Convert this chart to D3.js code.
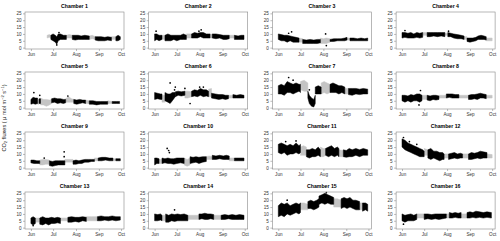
<!DOCTYPE html>
<html>
<head>
<meta charset="utf-8">
<script src="https://cdn.jsdelivr.net/npm/d3@7"></script>
<style>
  body { margin: 0; background: #fff; }
  text { font-family: "Liberation Sans", Arial, sans-serif; }
</style>
</head>
<body>
<svg width="500" height="241"></svg>
<script>
// days counted from 1 June; runs are [flag, [[day, low, high], ...]], flag 1 = gap filled (gray)
var monthLabels = ["Jun", "Jul", "Aug", "Sep", "Oct"];
var monthDays = [0, 30, 61, 92, 122];
var yTicks = [0, 5, 10, 15, 20, 25];
var titles = ["Chamber 1", "Chamber 2", "Chamber 3", "Chamber 4", "Chamber 5", "Chamber 6", "Chamber 7", "Chamber 8",
              "Chamber 9", "Chamber 10", "Chamber 11", "Chamber 12", "Chamber 13", "Chamber 14", "Chamber 15", "Chamber 16"];

var chamber1 = [
  [1, [[22,7,9],[25,7.5,9.5],[27,7,9]]],
  [0, [[27,6,9],[30,5,10],[33,4,9],[35,2.5,8],[37,5,10],[40,6,10],[44,6,9],[48,6,9]]],
  [1, [[48,7,9],[52,7,9.5],[56,7,9]]],
  [0, [[56,6,9],[60,5.5,9],[64,6,9],[68,6,8.5],[73,6,9],[79,6,8.5]]],
  [1, [[79,6,8.5],[83,6.5,9],[87,6,8]]],
  [0, [[87,5.5,8],[91,5,8],[95,5,8],[100,5,7.5],[104,5.5,8],[109,5,7.5]]],
  [1, [[109,6,8],[115,6,8]]],
  [0, [[115,5,8],[118,5,9],[121,6,8]]]
];
var chamber2 = [
  [0, [[0,5,10],[3,6,10],[6,5,9],[10,6,9]]],
  [1, [[10,6,9],[14,6,9]]],
  [0, [[14,5,9],[18,5,10],[22,5,9],[26,6,9],[30,5,9],[35,6,9],[39,6,10],[43,6,9]]],
  [1, [[43,7,10],[47,7,10],[50,7,10]]],
  [0, [[50,7,10],[54,7,11],[58,7,10.5],[62,8,11],[66,7,11],[70,7,10],[75,7,10]]],
  [1, [[75,7,10],[78,7,9.5]]],
  [0, [[78,7,10],[83,6.5,10],[88,7,9.5],[93,6,9],[97,6,9],[101,6.5,9]]],
  [1, [[101,7,9],[108,7,9]]],
  [0, [[108,6,9],[113,6,8.5],[117,6,9],[121,6,9]]]
];
var chamber3 = [
  [0, [[0,6,10],[4,5,9.5],[8,5,9],[12,4,9],[16,5,8.5],[20,4,8],[24,4,7.5],[28,4,7]]],
  [1, [[28,4,7],[33,4,6.5]]],
  [0, [[33,3,6],[38,3,5.5],[43,3,6],[48,3,5.5],[53,3,6],[57,3.5,6]]],
  [1, [[57,3,7],[61,3,6.5],[65,3,7],[70,4,6.5]]],
  [0, [[70,4.5,6],[75,4.5,6.5],[80,5,6.5],[85,5,6.5],[90,5,7],[93,5.5,7.5]]],
  [1, [[93,5.5,7],[97,5.5,7]]],
  [0, [[97,5,7],[102,5,7],[107,5,6.5],[112,5,7],[117,5,6.5],[121,5,7]]]
];
var chamber4 = [
  [0, [[0,7,11],[4,7.5,11],[8,7,10.5],[12,7,11],[16,7,10],[20,7.5,11],[24,7,10.5],[28,7.5,11]]],
  [1, [[28,9,11],[34,9,11]]],
  [0, [[34,8,11],[38,8,11],[43,8.5,11],[48,8,11],[53,8.5,11],[58,8,11]]],
  [1, [[58,9,10.5],[62,9,10.5]]],
  [0, [[62,8,11],[66,8,10.5],[70,7,10],[75,6.5,9.5],[80,6.5,9],[84,6,8.5]]],
  [1, [[84,6,8],[88,6,8]]],
  [0, [[88,4.5,7],[92,4,7],[96,4.5,7],[100,5,7.5],[103,6,8.5],[107,6,9],[111,6,8.5],[114,5.5,8]]],
  [1, [[114,5,7],[118,5,7],[122,5,7]]]
];
var chamber5 = [
  [0, [[0,2.5,6],[3,3,7.5],[6,2.5,7],[9,3,7]]],
  [1, [[9,2.5,6],[11,2.5,6]]],
  [0, [[11,3,6.5],[13,3,6.5]]],
  [1, [[13,2,7],[17,2,6],[21,1,6],[25,2,5.5],[28,3,6]]],
  [0, [[28,3.5,6.5],[32,4,7],[36,3,6.5],[40,3.5,6.5],[44,3,6],[47,3.5,6]]],
  [1, [[47,4,6.5],[51,4,8],[55,4,6.5],[58,4,6]]],
  [0, [[58,3,6],[62,2.5,5.5],[66,3,6],[70,3.5,5.5],[74,3,5.5]]],
  [1, [[74,3,5.5],[79,3,5]]],
  [0, [[79,2.5,5],[84,2.5,5],[89,2,4.5],[94,2.5,4.5],[99,2.5,4.5],[104,2.5,4.5]]],
  [1, [[104,3,5],[110,3,4.5]]],
  [0, [[110,3,4.5],[116,3,4.5],[120,3,4.5]]]
];
var chamber6 = [
  [0, [[0,6,11],[4,6.5,10.5],[8,6,10],[10,6,10]]],
  [1, [[10,4,9],[14,4,9]]],
  [0, [[14,5,11],[18,4,10],[21,3,10],[24,5,11],[28,8,11]]],
  [0, [[28,8,11.5],[32,9,12],[36,8.5,11.5],[41,9,12]]],
  [1, [[41,7,12],[45,7,12],[50,8,11.5]]],
  [0, [[50,8,12],[54,8.5,13],[58,8,12.5],[62,9,14],[66,8,13],[70,8.5,13],[73,8,12]]],
  [1, [[73,8,13.5],[77,8,14]]],
  [0, [[77,7,10.5],[82,6.5,10],[87,6,9.5],[92,6.5,9.5],[96,6,9],[100,6.5,9]]],
  [1, [[100,7,9],[106,7,9]]],
  [0, [[106,7,9.5],[111,7,9],[116,7,9.5],[121,7,9]]]
];
var chamber7 = [
  [0, [[0,10,16],[4,10,17],[8,9,16],[12,11,19],[16,11,18],[20,10,17],[24,11,18],[28,12,17],[30,11,17]]],
  [1, [[30,13,19],[35,12,20],[40,12,18]]],
  [0, [[40,7,12],[42,3,9],[45,1,7],[48,0.5,6],[50,3,9]]],
  [0, [[50,10,15],[54,10,16],[58,10,15]]],
  [1, [[58,10,18],[62,11,19],[66,10,18],[70,11,17]]],
  [0, [[70,11,17],[74,11,18],[78,11,17],[82,10,16],[86,11,16],[90,10,15]]],
  [1, [[90,10,14],[95,10,14]]],
  [0, [[95,9.5,14],[100,9,14],[105,10,14],[110,9.5,13.5],[115,10,14],[121,10,13.5]]]
];
var chamber8 = [
  [0, [[0,5,9],[4,4,9],[8,5,8.5],[12,4,9.5],[16,5,9],[20,5,10],[24,4,10],[27,5,9]]],
  [1, [[27,6,9],[34,6,9]]],
  [0, [[34,5.5,9],[38,5,8.5],[42,6,9],[46,5.5,9],[50,6,8.5]]],
  [1, [[50,7,9],[55,7,9],[60,7,9]]],
  [0, [[60,7,10],[64,7.5,10],[68,7,10],[72,7,9.5],[77,7,9.5]]],
  [1, [[77,7,9],[83,7,9],[90,7,9]]],
  [0, [[90,6,9],[94,6,9.5],[98,6.5,9.5],[102,6,10],[106,7,10.5],[110,7,10],[114,6.5,9.5]]],
  [1, [[114,7,9],[122,7,9]]]
];
var chamber9 = [
  [0, [[0,3.5,5.5],[4,3,5.5],[8,3,5],[12,3,5]]],
  [1, [[12,2,5.5],[16,2,6],[20,2.5,6],[25,2.5,5.5]]],
  [0, [[25,1.5,5],[29,1,4.5],[33,1.5,5],[37,2,5],[41,2,5],[46,2,5]]],
  [1, [[46,4,6],[51,4,6],[57,4,6]]],
  [0, [[57,2.5,5],[61,2.5,5.5],[65,3,5],[69,3,5.5],[73,4,6],[78,4,6],[82,4.5,6],[86,4.5,6]]],
  [1, [[86,5,7],[91,5,7]]],
  [0, [[91,5,7],[96,5,7.5],[101,5.5,7.5],[106,5,7],[111,5,7]]],
  [1, [[111,5,6.5],[115,5,6.5]]],
  [0, [[115,5,6.5],[121,5,6.5]]]
];
var chamber10 = [
  [0, [[0,2,7],[3,3,7],[6,3,6.5]]],
  [1, [[6,3,6],[10,3,6]]],
  [0, [[10,3,7],[14,3.5,6.5],[18,3,7],[22,3,6.5],[26,2.5,6.5],[30,3,7],[35,3.5,7],[40,3,7]]],
  [1, [[40,2,7],[44,1,6],[48,2,7]]],
  [0, [[48,3,8],[52,3.5,7.5],[56,4,8],[60,3,7.5],[65,4,8],[70,4.5,8]]],
  [1, [[70,6,8],[74,6,8.5],[78,6,8]]],
  [0, [[78,6,9],[83,6,8.5],[88,6.5,9],[93,6,8.5],[97,6,9],[101,6,8.5]]],
  [1, [[101,5,7],[108,5,7]]],
  [0, [[108,5,7],[114,5,7],[121,5,7]]]
];
var chamber11 = [
  [0, [[0,11,17],[4,10,18],[8,11,17],[12,9,16],[16,10,17],[20,10,16],[24,11,18],[28,10,16],[30,11,17]]],
  [1, [[30,9,15],[34,9,16],[38,9,15]]],
  [0, [[38,8,13],[42,7,13],[46,8,14],[50,8,13],[54,9,15],[57,8,13]]],
  [1, [[57,8,15],[61,8,14],[64,9,14]]],
  [0, [[64,9,14],[68,8,15],[72,9,16],[76,8,14],[80,9,15],[82,8,14]]],
  [1, [[82,8,13],[88,8,12.5]]],
  [0, [[88,8,13],[92,7.5,12.5],[96,8,14],[100,8,13],[105,9,14],[110,8,13],[115,9,14],[121,9,13]]]
];
var chamber12 = [
  [0, [[0,15,21],[4,13,20],[8,12,18],[12,11,17],[16,10,16],[20,9,15],[24,8,14],[28,8,13],[30,8,12]]],
  [1, [[30,9,14],[35,9,13]]],
  [0, [[35,7,13],[39,6,14],[43,7,12],[47,6,12],[51,5,11],[55,6,11],[57,6,10]]],
  [1, [[57,7,10],[63,7,10]]],
  [0, [[63,6,10],[67,6.5,10.5],[71,7,11],[75,6.5,10],[79,7,10.5],[82,7,10]]],
  [1, [[82,7,10],[90,7,10]]],
  [0, [[90,6,10],[94,6,11],[98,6.5,10.5],[102,7,11],[106,6.5,12],[110,7,11.5],[115,7,11]]],
  [1, [[115,7,10],[122,7,9.5]]]
];
var chamber13 = [
  [0, [[0,3,7],[3,2,8],[6,3,7]]],
  [1, [[6,4,7],[12,4,7]]],
  [0, [[12,2.5,7],[16,2,8],[20,3,7],[24,2,7],[28,3,7.5],[32,3,7],[36,3.5,7.5],[40,3,7]]],
  [1, [[40,5,7],[45,5,7],[50,5,7]]],
  [0, [[50,4,7.5],[55,4,8],[60,4.5,7.5],[65,4,7.5],[70,5,8],[75,4.5,7.5]]],
  [1, [[75,5,8],[82,5,8],[90,5,8]]],
  [0, [[90,5,8],[95,5,8.5],[100,5.5,8],[105,5,8],[110,5.5,8.5],[115,5,8],[121,5.5,8]]]
];
var chamber14 = [
  [0, [[0,5,10],[4,5,9.5],[8,5.5,10],[10,5,9]]],
  [1, [[10,5,9],[15,5,9]]],
  [0, [[15,4,10],[19,4,9],[23,5,10],[27,4.5,9.5],[31,5,10],[35,5,9.5],[40,5,10],[45,5,9]]],
  [1, [[45,6,9],[52,6,9],[60,6,9]]],
  [0, [[60,6,10],[64,6.5,10],[68,6,10.5],[72,6,10],[76,6.5,10],[80,6,9.5]]],
  [1, [[80,6,9],[85,6,9],[90,6,9]]],
  [0, [[90,6,9],[95,6,9.5],[100,6.5,9],[105,6,9.5],[110,6,9],[115,6,9.5],[121,6,9]]]
];
var chamber15 = [
  [0, [[0,8,16],[4,9,18],[8,8,17],[12,10,18],[16,9,16],[20,10,17],[24,11,18],[28,10,17],[30,11,18]]],
  [1, [[30,13,18],[35,13,18],[40,13,17]]],
  [0, [[40,14,19],[44,14,20],[48,13,19],[52,14,20],[55,15,21]]],
  [0, [[55,17,23],[59,18,24],[63,17,25],[67,18,24],[71,17,23],[75,17,22]]],
  [1, [[75,15,21],[80,15,21],[85,15,20]]],
  [0, [[85,14,21],[89,15,22],[93,14,21],[97,15,22],[101,14,20],[105,13,20],[110,13,19]]],
  [1, [[110,13,18],[114,13,18]]],
  [0, [[114,12,18],[118,13,18],[121,12,17]]]
];
var chamber16 = [
  [0, [[0,5,10],[4,4,9],[8,5,9.5],[12,5,10],[16,5,9],[20,6,10]]],
  [1, [[20,7,10],[25,7,10],[30,7,10]]],
  [0, [[30,6,10],[35,6.5,10],[40,6,9.5],[45,6.5,10],[50,6,10],[55,6.5,10],[60,7,10]]],
  [1, [[60,7,10],[64,7,10]]],
  [0, [[64,7,11],[68,7,10.5],[72,7.5,11],[76,7,10.5],[80,7,11]]],
  [1, [[80,7,10],[88,7,10]]],
  [0, [[88,7,11],[92,7,11.5],[96,7.5,11],[100,7,12],[105,7.5,11.5],[110,7,11],[115,7.5,11.5],[121,7,11]]]
];
// isolated points: [chamber index, day, value]
var spikes = [
  [0, 35, 2], [0, 38, 11], [1, 2, 12], [1, 63, 13], [1, 60, 12], [2, 18, 11.5], [2, 14, 10.5], [2, 64, 10], [2, 65, 1.5],
  [3, 4, 12.5], [3, 63, 12], [4, 4, 11], [4, 12, 9], [4, 50, 8.5], [5, 21, 18], [5, 28, 15], [5, 27, 13], [5, 41, 14],
  [5, 61, 15], [5, 66, 15], [5, 48, 3], [6, 14, 22], [6, 20, 20], [6, 42, 13], [7, 25, 12.5], [7, 23, 2], [8, 45, 11.5],
  [8, 45, 8], [8, 18, 7], [9, 17, 14], [9, 19, 12.5], [9, 20, 11], [10, 10, 19], [10, 24, 19.5], [11, 2, 22], [11, 10, 19],
  [11, 20, 17], [12, 3, 1.5], [13, 27, 13], [14, 12, 20], [14, 65, 25.5], [15, 2, 2.5]
];

var chambers = [chamber1, chamber2, chamber3, chamber4, chamber5, chamber6, chamber7, chamber8,
                chamber9, chamber10, chamber11, chamber12, chamber13, chamber14, chamber15, chamber16];

var svg = d3.select("svg");
var pw = 99, ph = 37;
var start = new Date(2021, 5, 1);
function toDate(d) { return d3.timeDay.offset(start, d); }

var x = d3.scaleTime().domain([toDate(-8), toDate(126)]).range([0, pw]);
var y = d3.scaleLinear().domain([-1, 26]).range([ph, 0]);

var band = d3.area()
    .x(function(d) { return x(toDate(d[0])); })
    .y0(function(d) { return y(d[1]); })
    .y1(function(d) { return y(d[2]); });

chambers.forEach(function(runs, i) {
    var col = i % 4, row = Math.floor(i / 4);
    var g = svg.append("g")
        .attr("transform", "translate(" + (25 + col * 123.7) + "," + (12 + row * 60) + ")");

    // gray (gap filled) first, measured black on top
    [1, 0].forEach(function(flag) {
        g.selectAll(null)
            .data(runs.filter(function(r) { return r[0] === flag; }))
            .enter().append("path")
            .attr("d", function(r) { return band(r[1]); })
            .attr("fill", flag ? "#c4c4c4" : "#000")
            .attr("stroke", flag ? "#c4c4c4" : "#000")
            .attr("stroke-width", 0.5)
            .attr("stroke-linejoin", "round");
    });

    g.selectAll("circle")
        .data(spikes.filter(function(s) { return s[0] === i; }))
        .enter().append("circle")
        .attr("cx", function(s) { return x(toDate(s[1])); })
        .attr("cy", function(s) { return y(s[2]); })
        .attr("r", 0.85)
        .attr("fill", "#000");

    var xAxis = d3.axisBottom(x)
        .tickValues(monthDays.map(toDate))
        .tickFormat(function(d, k) { return monthLabels[k]; })
        .tickSize(2).tickPadding(1.5);
    var ax = g.append("g").attr("transform", "translate(0," + ph + ")").call(xAxis);

    var yAxis = d3.axisLeft(y).tickValues(yTicks).tickSize(2).tickPadding(1.5);
    var ay = g.append("g").call(yAxis);

    [ax, ay].forEach(function(a) {
        a.select(".domain").remove();
        a.selectAll("line").attr("stroke", "#777").attr("stroke-width", 0.5);
        a.selectAll("text").attr("font-size", 4.6).attr("fill", "#333")
            .style("font-family", "'Liberation Sans', Arial, sans-serif");
    });

    g.append("rect")
        .attr("width", pw).attr("height", ph)
        .attr("fill", "none").attr("stroke", "#888").attr("stroke-width", 0.6);

    g.append("text")
        .attr("x", pw / 2).attr("y", -4)
        .attr("text-anchor", "middle")
        .attr("font-size", 5.2).attr("font-weight", "bold")
        .text(titles[i]);
});

// shared y label
var yl = svg.append("text")
    .attr("transform", "translate(6,118) rotate(-90)")
    .attr("text-anchor", "middle")
    .attr("font-size", 5.6)
    .attr("fill", "#222");
yl.append("tspan").text("CO");
yl.append("tspan").attr("font-size", 4).attr("dy", 1.2).text("2");
yl.append("tspan").attr("dy", -1.2).text(" fluxes ( \u03bc mol m");
yl.append("tspan").attr("font-size", 4).attr("dy", -2).text("\u22122");
yl.append("tspan").attr("dy", 2).text(" s");
yl.append("tspan").attr("font-size", 4).attr("dy", -2).text("\u22121");
yl.append("tspan").attr("dy", 2).text(")");
</script>
</body>
</html>
